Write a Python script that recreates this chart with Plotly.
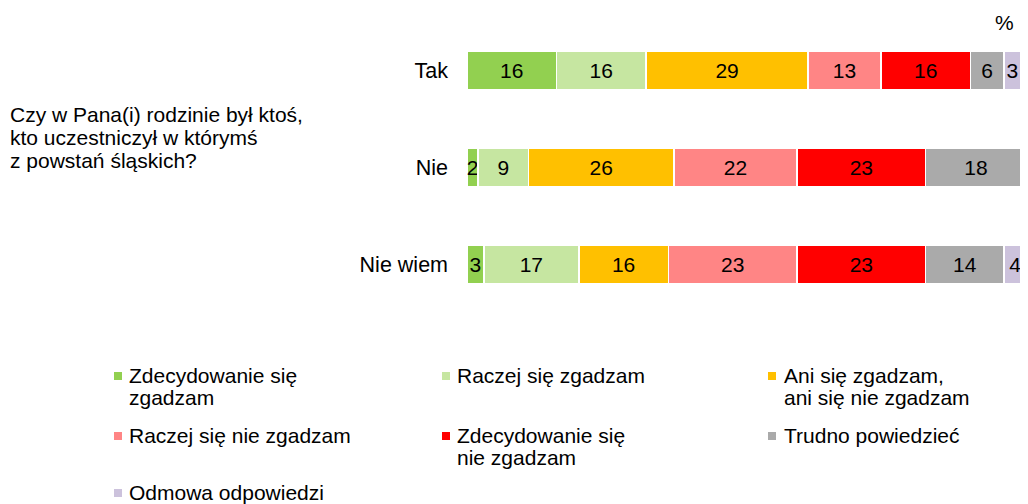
import plotly.graph_objects as go

categories = ["Tak", "Nie", "Nie wiem"]
answers = [
    "Zdecydowanie się<br>zgadzam",
    "Raczej się zgadzam",
    "Ani się zgadzam,<br>ani się nie zgadzam",
    "Raczej się nie zgadzam",
    "Zdecydowanie się<br>nie zgadzam",
    "Trudno powiedzieć",
    "Odmowa odpowiedzi",
]
colors = ["#92D050", "#C6E6A1", "#FFC000", "#FF8585", "#FF0000", "#AAAAAA", "#CCC2DC"]

# one list per answer, values for Tak / Nie / Nie wiem
values = [
    [16, 2, 3],
    [16, 9, 17],
    [29, 26, 16],
    [13, 22, 23],
    [16, 23, 23],
    [6, 18, 14],
    [3, 1, 4],
]

question_lines = ["Czy w Pana(i) rodzinie był ktoś,", "kto uczestniczył w którymś", "z powstań śląskich?"]

FONT = "Liberation Sans, Arial, sans-serif"
OFF = 8  # page body margin
W, H = 1028 - OFF, 504 - OFF
L, R, T, B = 459, 0, 14, 191
PW, PH = W - L - R, H - T - B


def px(x):
    # x in screenshot pixels -> paper
    return (x - OFF - L) / PW


def py(y):
    return (H - B - (y - OFF)) / PH


fig = go.Figure()
for name, col, vals in zip(answers, colors, values):
    fig.add_trace(go.Bar(
        y=categories, x=vals, name=name, orientation="h",
        marker=dict(color=col, line=dict(color="white", width=1.5)),
        text=vals, textposition="inside", insidetextanchor="middle",
        textfont=dict(size=21, color="black", family=FONT),
        width=0.39, hoverinfo="skip",
    ))

fig.update_layout(
    barmode="stack",
    width=W, height=H,
    margin=dict(l=L, r=R, t=T, b=B),
    plot_bgcolor="white", paper_bgcolor="white",
    font=dict(family=FONT, size=21, color="black"),
    uniformtext=dict(minsize=21, mode="show"),
    xaxis=dict(range=[0, 100.3], visible=False, fixedrange=True),
    yaxis=dict(autorange="reversed", showgrid=False, showline=False, ticks="",
               automargin=False, tickfont=dict(size=21.5, color="black"),
               ticklabelstandoff=18),
    showlegend=False,
)


def text_lines(lines, x, y0, step=22.5, size=21):
    for k, line in enumerate(lines):
        fig.add_annotation(text=line, xref="paper", yref="paper", x=px(x), y=py(y0 + k * step),
                           xanchor="left", yanchor="middle", showarrow=False,
                           font=dict(size=size), borderpad=0)


# legend drawn by hand: 3 columns, rows at fixed heights
mark_x = [118, 446, 772]
text_x = [128, 456, 783]
row_y = [376, 436, 493]
for i, (name, col) in enumerate(zip(answers, colors)):
    c, r = i % 3, i // 3
    fig.add_shape(type="rect", xref="paper", yref="paper",
                  x0=px(mark_x[c] - 4), x1=px(mark_x[c] + 4),
                  y0=py(row_y[r] - 4), y1=py(row_y[r] + 4),
                  fillcolor=col, line_width=0)
    text_lines(name.split("<br>"), text_x[c], row_y[r] - 1)

text_lines(question_lines, 9, 115)

fig.add_annotation(text="%", xref="paper", yref="paper", x=px(1004), y=py(22),
                   xanchor="center", yanchor="middle", showarrow=False,
                   font=dict(size=21))

fig.write_html("out.html")
